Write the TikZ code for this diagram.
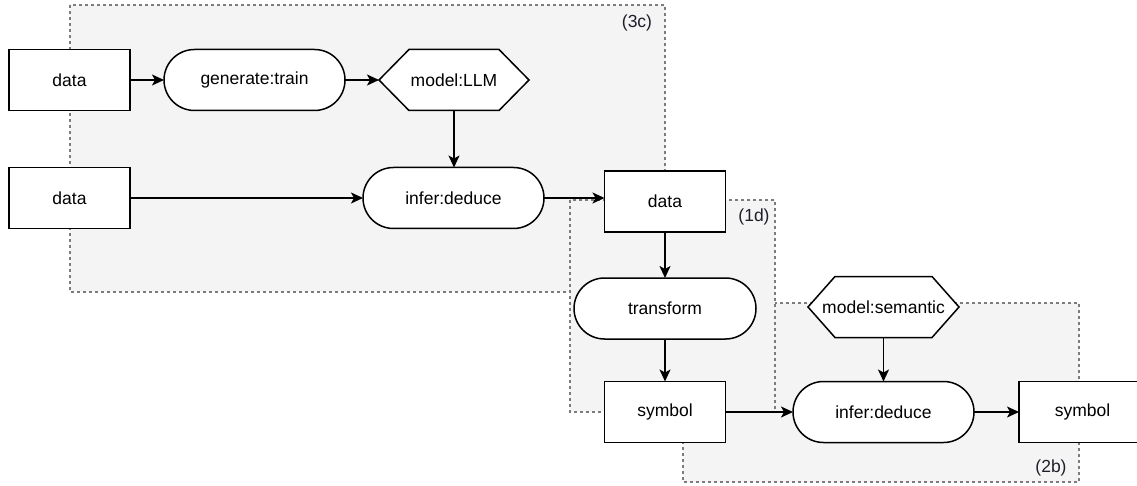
\documentclass[tikz,border=0pt]{standalone}
\usepackage{fontspec}
\setmainfont{Liberation Sans}
\usetikzlibrary{arrows.meta}
\pgfdeclarelayer{groups}
\pgfdeclarelayer{shapes}
\pgfsetlayers{groups,shapes,main}
\definecolor{groupfill}{HTML}{F4F4F4}
\definecolor{groupline}{HTML}{7C7C7C}
\definecolor{labelink}{HTML}{1E1E2A}
\tikzset{
  base/.style={draw=black, line width=1.5pt, fill=white, outer sep=0pt,
    minimum height=61pt, inner sep=0pt, font=\fontsize{17.5}{20}\selectfont},
  databox/.style={base, rectangle, minimum width=121pt},
  procbox/.style={base, rectangle, rounded corners=30.5pt, minimum width=181pt},
  hexlabel/.style={rectangle, outer sep=0pt, inner sep=0pt, minimum height=61pt,
    font=\fontsize{17.5}{20}\selectfont},
  hexline/.style={draw=black, line width=1.5pt, fill=white},
  group/.style={draw=groupline, fill=groupfill, line width=1.1pt, dash pattern=on 3.2pt off 2.8pt},
  grouplabel/.style={text=labelink, font=\fontsize{17.5}{20}\selectfont, inner sep=0pt},
  flow/.style={draw=black, line width=1.6pt, -{Stealth[length=12pt, width=11pt, inset=3pt]}},
}
\begin{document}
\begin{tikzpicture}[x=1pt, y=-1pt]
\useasboundingbox (0,0) rectangle (1137,486);

% dashed groups
\begin{pgfonlayer}{groups}
  \path[group] (70,5) rectangle (665,292);
  \path[group] (683,303) rectangle (1079,482);
  \path[group] (570,200) rectangle (775,412);
\end{pgfonlayer}
\node[grouplabel] (lab3c) at (637,23) {(3c)};
\node[grouplabel] (lab1d) at (754,217) {(1d)};
\node[grouplabel] (lab2b) at (1051,468) {(2b)};

% upper pipeline
\node[databox] (data1) at (69.5,80) {data};
\node[procbox] (gen) at (254.5,80) {generate:train};
\node[hexlabel, minimum width=150pt] (llm) at (454,80) {model:LLM};
\node[databox] (data2) at (69.5,198) {data};
\node[procbox] (inf1) at (453.5,198) {infer:deduce};

% middle pipeline
\node[databox] (data3) at (665,201.5) {data};
\node[procbox, minimum width=182pt] (trans) at (665,308.5) {transform};
\node[databox] (sym1) at (665,412) {symbol};

% lower pipeline
\node[hexlabel, minimum width=151pt] (sem) at (883.5,307) {model:semantic};
\node[procbox] (inf2) at (883.5,412) {infer:deduce};
\node[databox, minimum width=127pt] (sym2) at (1082.5,412) {symbol};

% hexagonal model shapes
\begin{pgfonlayer}{shapes}
  \path[hexline] (llm.west) -- ([xshift=30pt]llm.north west) -- ([xshift=-30pt]llm.north east)
    -- (llm.east) -- ([xshift=-30pt]llm.south east) -- ([xshift=30pt]llm.south west) -- cycle;
  \path[hexline] (sem.west) -- ([xshift=27pt]sem.north west) -- ([xshift=-27pt]sem.north east)
    -- (sem.east) -- ([xshift=-27pt]sem.south east) -- ([xshift=27pt]sem.south west) -- cycle;
\end{pgfonlayer}

% connectors
\draw[flow] (data1) -- (gen);
\draw[flow] (gen) -- (llm);
\draw[flow] (llm.south) -- (llm.south |- inf1.north);
\draw[flow] (data2) -- (inf1);
\draw[flow] (inf1.east) -- (inf1.east -| data3.west);
\draw[flow] (data3) -- (trans);
\draw[flow] (trans) -- (sym1);
\draw[flow] (sym1) -- (inf2);
\draw[flow] (sem.south) -- (sem.south |- inf2.north);
\draw[flow] (inf2) -- (sym2);
\end{tikzpicture}
\end{document}
